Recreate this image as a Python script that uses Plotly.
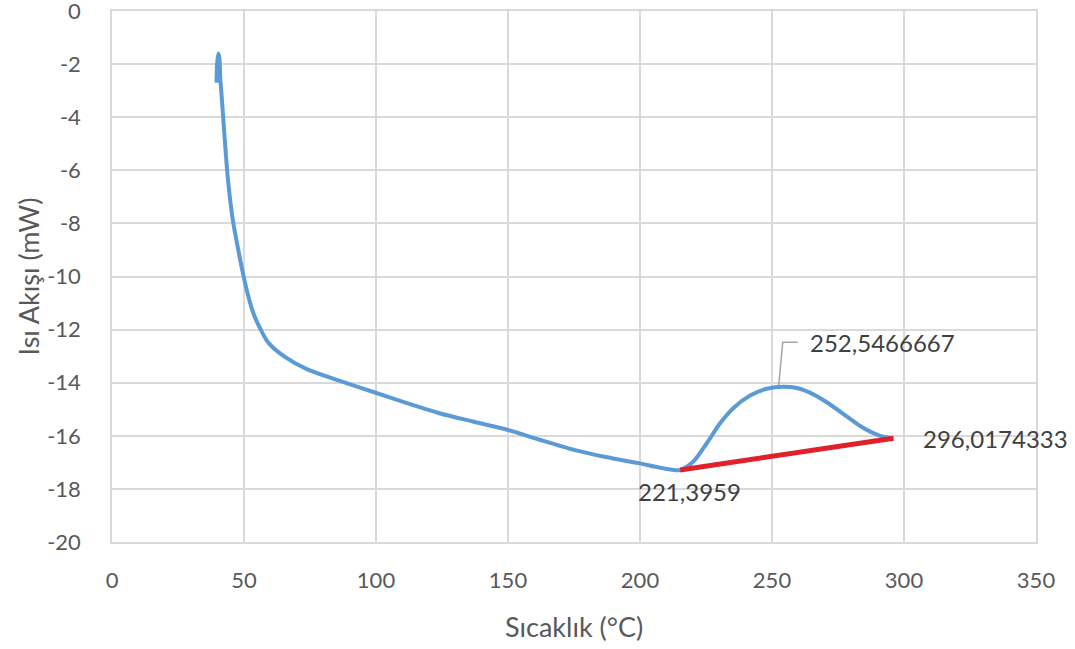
import numpy as np
import plotly.graph_objects as go

# DSC curve (temperature °C, heat flow mW)
temp = [39.6, 39.8, 40.3, 40.7, 41.0, 41.55, 42.73, 43.94, 45.76, 47.84, 49.73, 51.7, 53.8,
        56.44, 59.28, 65.5, 74.0, 86.6, 99.6, 112.0, 124.0, 137.0, 150.0, 162.0, 175.0, 187.0,
        200.0, 207.6, 215.2, 220.2, 225.3, 230.4, 235.4, 241.7, 248.0, 254.3, 259.4,
        265.7, 272.0, 278.3, 284.6, 291.0, 296.0]
heat = [-2.7, -2.0, -1.6, -1.8, -2.5, -3.23, -4.86, -6.37, -7.87, -9.0, -9.94, -10.77, -11.45,
        -12.02, -12.5, -13.03, -13.5, -13.94, -14.37, -14.78, -15.15, -15.47, -15.78, -16.15,
        -16.53, -16.8, -17.04, -17.2, -17.29, -16.97, -16.28, -15.52, -14.95, -14.48, -14.23,
        -14.15, -14.2, -14.44, -14.82, -15.27, -15.71, -16.0, -16.09]

# Baseline (red)
base_x = [215.2, 296.0]
base_y = [-17.29, -16.09]

# Labels
start_label = "221,3959"
peak_label = "252,5466667"
peak_x = 252.5466667
end_label = "296,0174333"
x_title = "Sıcaklık (°C)"
y_title = "Isı Akışı (mW)"

x_ticks = [0, 50, 100, 150, 200, 250, 300, 350]
y_tick_vals = [0, -2, -4, -6, -8, -10, -12, -14, -16, -18, -20]
y_tick_text = ["0", "-2", "-4", "-6", "-8", "-10", "-12", "-14", "-16", "-18", "-20"]

FONT = "Lato"
TICK_COLOR = "#595959"
LABEL_COLOR = "#404040"
GRID = "#D9D9D9"

fig = go.Figure()
fig.add_trace(go.Scatter(x=temp, y=heat, mode="lines",
                         line=dict(color="#5B9BD5", width=4, shape="spline", smoothing=0.8),
                         hoverinfo="skip", showlegend=False))
fig.add_trace(go.Scatter(x=base_x, y=base_y, mode="lines",
                         line=dict(color="#E0202B", width=5),
                         hoverinfo="skip", showlegend=False))

peak_y = float(np.interp(peak_x, temp, heat))

# bent leader line for peak label
fig.add_shape(type="path", xref="x", yref="y", xsizemode="pixel", ysizemode="pixel",
              xanchor=peak_x, yanchor=peak_y,
              path="M0,2 L4,45 L19,45", line=dict(color="#A6A6A6", width=1.5))

fig.add_annotation(x=peak_x, y=peak_y, text=peak_label, showarrow=False,
                   xanchor="left", yanchor="middle", xshift=29, yshift=45,
                   font=dict(family=FONT, size=24, color=LABEL_COLOR))
fig.add_annotation(x=base_x[0], y=base_y[0], text=start_label, showarrow=False,
                   xanchor="center", yanchor="middle", xshift=9, yshift=-21,
                   font=dict(family=FONT, size=24, color=LABEL_COLOR))
fig.add_annotation(x=base_x[1], y=base_y[1], text=end_label, showarrow=False,
                   xanchor="left", yanchor="middle", xshift=28, yshift=0,
                   font=dict(family=FONT, size=24, color=LABEL_COLOR))

# axis titles
fig.add_annotation(xref="paper", yref="paper", x=0.5, y=0, text=x_title, showarrow=False,
                   xanchor="center", yanchor="middle", yshift=-84,
                   font=dict(family=FONT, size=27, color=TICK_COLOR))
fig.add_annotation(xref="paper", yref="paper", x=0, y=0.5, text=y_title, showarrow=False,
                   xanchor="center", yanchor="middle", xshift=-84, textangle=-90,
                   font=dict(family=FONT, size=27, color=TICK_COLOR))

fig.update_layout(
    width=1075, height=649,
    margin=dict(l=112, r=39, t=11, b=107),
    paper_bgcolor="white", plot_bgcolor="white",
    font=dict(family=FONT, size=22, color=TICK_COLOR),
    xaxis=dict(range=[0, 350], tickvals=x_ticks, showgrid=True, gridcolor=GRID, gridwidth=1.5,
               zeroline=False, showline=True, linecolor=GRID, linewidth=1.5, mirror=True,
               ticks="", ticklabelstandoff=18, automargin=False, ticklabeloverflow="allow"),
    yaxis=dict(range=[-20, 0], tickvals=y_tick_vals, ticktext=y_tick_text, showgrid=True,
               gridcolor=GRID, gridwidth=1.5, zeroline=False, showline=True, linecolor=GRID,
               linewidth=1.5, mirror=True, ticks="", ticklabelstandoff=25, automargin=False,
               ticklabeloverflow="allow"),
)

fig.write_html("out.html", config={"displayModeBar": False},
               post_script="document.body.style.margin='0';document.body.style.padding='0';")
